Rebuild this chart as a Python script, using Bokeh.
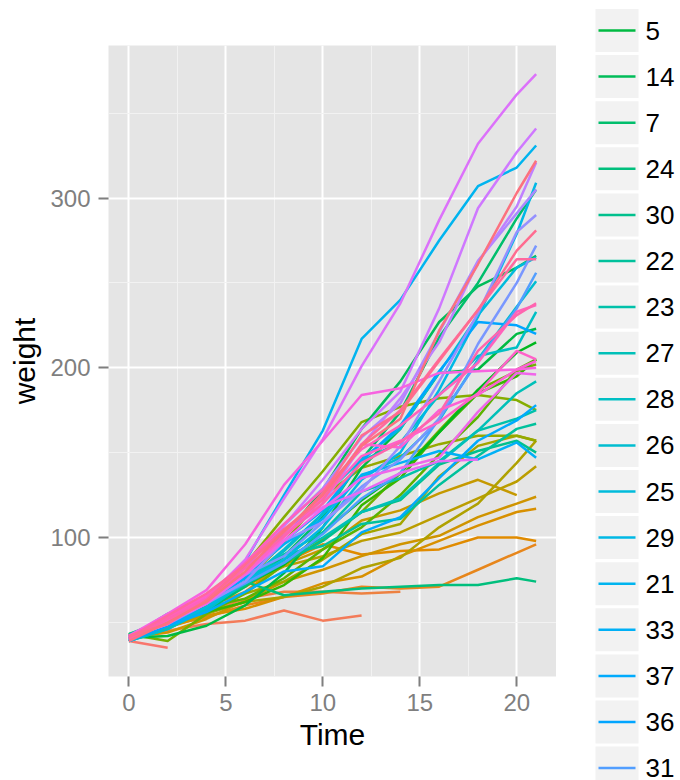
import math
from jinja2 import Template
from bokeh.plotting import figure
from bokeh.models import Range1d, FixedTicker, ColumnDataSource
from bokeh.core.properties import value
from bokeh.embed import file_html
from bokeh.resources import INLINE

# ---- data (ChickWeight) ----
times = [0, 2, 4, 6, 8, 10, 12, 14, 16, 18, 20, 21]

c1 = [42, 51, 59, 64, 76, 93, 106, 125, 149, 171, 199, 205]
c2 = [40, 49, 58, 72, 84, 103, 122, 138, 162, 187, 209, 215]
c3 = [43, 39, 55, 67, 84, 99, 115, 138, 163, 187, 198, 202]
c4 = [42, 49, 56, 67, 74, 87, 102, 108, 136, 154, 160, 157]
c5 = [41, 42, 48, 60, 79, 106, 141, 164, 197, 199, 220, 223]
c6 = [41, 49, 59, 74, 97, 124, 141, 148, 155, 160, 160, 157]
c7 = [41, 49, 57, 71, 89, 112, 146, 174, 218, 250, 288, 305]
c8 = [42, 50, 61, 71, 84, 93, 110, 116, 126, 134, 125]
c9 = [42, 51, 59, 68, 85, 96, 90, 92, 93, 100, 100, 98]
c10 = [41, 44, 52, 63, 74, 81, 89, 96, 101, 112, 120, 124]
c11 = [43, 51, 63, 84, 112, 139, 168, 177, 182, 184, 181, 175]
c12 = [41, 49, 56, 62, 72, 88, 119, 135, 162, 185, 195, 205]
c13 = [41, 48, 53, 60, 65, 67, 71, 70, 71, 81, 91, 96]
c14 = [41, 49, 62, 79, 101, 128, 164, 192, 227, 248, 259, 266]
c15 = [41, 49, 56, 64, 68, 68, 67, 68]
c16 = [41, 45, 49, 51, 57, 51, 54]
c17 = [42, 51, 61, 72, 83, 89, 98, 103, 113, 123, 133, 142]
c18 = [39, 35]
c19 = [43, 48, 55, 62, 65, 71, 82, 88, 106, 120, 144, 157]
c20 = [41, 47, 54, 58, 65, 73, 77, 89, 98, 107, 115, 117]
c21 = [40, 50, 62, 86, 125, 163, 217, 240, 275, 307, 318, 331]
c22 = [41, 55, 64, 77, 90, 95, 108, 111, 131, 148, 164, 167]
c23 = [43, 52, 61, 73, 90, 103, 127, 135, 145, 163, 170, 175]
c24 = [42, 52, 58, 74, 66, 68, 70, 71, 72, 72, 76, 74]
c25 = [40, 49, 62, 78, 102, 124, 146, 164, 197, 231, 259, 265]
c26 = [42, 48, 57, 74, 93, 114, 136, 147, 169, 205, 236, 251]
c27 = [39, 46, 58, 73, 87, 100, 115, 123, 144, 163, 185, 192]
c28 = [39, 46, 58, 73, 92, 114, 145, 156, 184, 207, 212, 233]
c29 = [39, 48, 59, 74, 87, 106, 134, 150, 187, 230, 279, 309]
c30 = [42, 48, 59, 72, 85, 98, 115, 122, 143, 151, 157, 150]
c31 = [42, 53, 62, 73, 85, 102, 123, 138, 170, 204, 235, 256]
c32 = [41, 49, 65, 82, 107, 129, 159, 179, 221, 263, 291, 305]
c33 = [39, 50, 63, 77, 96, 111, 137, 144, 151, 146, 156, 147]
c34 = [41, 49, 63, 85, 107, 134, 164, 186, 235, 294, 327, 341]
c35 = [41, 53, 64, 87, 123, 158, 201, 238, 287, 332, 361, 373]
c36 = [39, 48, 61, 76, 98, 116, 145, 166, 198, 227, 225, 220]
c37 = [41, 48, 56, 68, 80, 83, 103, 112, 135, 157, 169, 178]
c38 = [41, 49, 61, 74, 98, 109, 128, 154, 192, 232, 280, 290]
c39 = [42, 50, 61, 78, 89, 109, 130, 146, 170, 214, 250, 272]
c40 = [41, 55, 66, 79, 101, 120, 154, 182, 215, 262, 295, 321]
c41 = [42, 51, 66, 85, 103, 124, 155, 153, 175, 184, 199, 204]
c42 = [42, 49, 63, 84, 103, 126, 160, 174, 204, 234, 269, 281]
c43 = [42, 55, 69, 96, 131, 157, 184, 188, 197, 198, 199, 200]
c44 = [42, 51, 65, 86, 103, 118, 127, 138, 145, 146]
c45 = [41, 50, 61, 78, 98, 117, 135, 141, 147, 174, 197, 196]
c46 = [40, 52, 62, 82, 101, 120, 144, 156, 173, 210, 231, 238]
c47 = [41, 53, 66, 79, 100, 123, 148, 157, 168, 185, 210, 205]
c48 = [39, 50, 62, 80, 104, 125, 154, 170, 222, 261, 303, 322]
c49 = [40, 53, 64, 85, 108, 128, 152, 166, 184, 203, 233, 237]
c50 = [41, 54, 67, 84, 105, 122, 155, 175, 205, 234, 264, 264]

# factor level order of Chick (legend order)
level_order = ["18", "16", "15", "13", "9", "20", "10", "8", "17", "19",
               "4", "6", "11", "3", "1", "12", "2", "5", "14", "7",
               "24", "30", "22", "23", "27", "28", "26", "25", "29", "21",
               "33", "37", "36", "31", "39", "38", "32", "40", "34", "35",
               "44", "45", "43", "41", "47", "49", "46", "50", "42", "48"]

x_ticks = [0, 5, 10, 15, 20]
y_ticks = [100, 200, 300]

weights_by_chick = {str(i): globals()["c%d" % i] for i in range(1, 51)}


# ---- ggplot2 hue palette (hcl, c=100, l=65) ----
def hcl_hex(h, c=100.0, l=65.0):
    WHITE_Y, WHITE_u, WHITE_v = 100.0, 0.1978398, 0.4683363
    hr = math.radians(h)
    U = c * math.cos(hr)
    V = c * math.sin(hr)
    Y = WHITE_Y * (((l + 16) / 116) ** 3 if l > 7.999592 else l / 903.3)
    u = U / (13 * l) + WHITE_u
    v = V / (13 * l) + WHITE_v
    X = 9.0 * Y * u / (4 * v)
    Z = -X / 3 - 5 * Y + 3 * Y / v

    def g(t):
        t = t / WHITE_Y
        t = 1.055 * t ** (1 / 2.4) - 0.055 if t > 0.00304 else 12.92 * t
        return int(255 * min(1.0, max(0.0, t)) + 0.5)

    r = g(3.240479 * X - 1.537150 * Y - 0.498535 * Z)
    gg = g(-0.969256 * X + 1.875992 * Y + 0.041556 * Z)
    b = g(0.055648 * X - 0.204043 * Y + 1.057311 * Z)
    return "#%02X%02X%02X" % (r, gg, b)


n = len(level_order)
colors = [hcl_hex(15 + 360.0 * i / n) for i in range(n)]

xs = [times[:len(weights_by_chick[ch])] for ch in level_order]
ys = [weights_by_chick[ch] for ch in level_order]

FONT = "Liberation Sans"
GREY = "#7F7F7F"

# ---- main panel ----
p = figure(width=556, height=780,
           x_range=Range1d(-1.05, 22.05), y_range=Range1d(18.1, 389.9),
           output_backend="svg", toolbar_location=None,
           min_border_left=108, min_border_right=0,
           min_border_top=45, min_border_bottom=104,
           background_fill_color="#E5E5E5", border_fill_color="white",
           outline_line_color=None)

src = ColumnDataSource(dict(xs=xs, ys=ys, color=colors))
p.multi_line(xs="xs", ys="ys", line_color="color", line_width=2.5,
             line_join="round", source=src)

p.xaxis.ticker = FixedTicker(ticks=x_ticks, minor_ticks=[2.5, 7.5, 12.5, 17.5])
p.yaxis.ticker = FixedTicker(ticks=y_ticks, minor_ticks=[50, 150, 250, 350])

for grid in (p.xgrid, p.ygrid):
    grid.grid_line_color = "white"
    grid.grid_line_width = 2
    grid.minor_grid_line_color = "#F2F2F2"
    grid.minor_grid_line_width = 1

p.xaxis.axis_label = "Time"
p.yaxis.axis_label = "weight"
for ax in (p.xaxis, p.yaxis):
    ax.axis_line_color = None
    ax.major_tick_line_color = GREY
    ax.major_tick_line_width = 2
    ax.major_tick_out = 10
    ax.major_tick_in = 0
    ax.minor_tick_out = 0
    ax.minor_tick_in = 0
    ax.major_label_text_color = GREY
    ax.major_label_text_font = FONT
    ax.major_label_text_font_size = "24px"
    ax.axis_label_text_font = FONT
    ax.axis_label_text_font_size = "30px"
    ax.axis_label_text_font_style = "normal"
    ax.axis_label_text_color = "black"
p.xaxis.major_label_standoff = 7
p.yaxis.major_label_standoff = 8
p.xaxis.axis_label_standoff = 4
p.yaxis.axis_label_standoff = 6

# ---- legend (its own small figure; the window shows items 5..31) ----
lf = figure(width=124, height=780,
            x_range=Range1d(0, 124), y_range=Range1d(33.269, 16.349),
            x_axis_type=None, y_axis_type=None,
            output_backend="svg", toolbar_location=None,
            min_border_left=0, min_border_right=0,
            min_border_top=0, min_border_bottom=0,
            outline_line_color=None, background_fill_color="white",
            border_fill_color="white")
lf.grid.visible = False

first_shown, last_shown = 17, 33
idx = list(range(first_shown, last_shown + 1))
leg_colors = colors[first_shown:last_shown + 1]
leg_labels = level_order[first_shown:last_shown + 1]

lf.rect(x=60.5, y=idx, width=43, height=43, width_units="screen",
        height_units="screen", fill_color="#F2F2F2", line_color=None)
lf.segment(x0=42, y0=idx, x1=79, y1=idx, line_color=leg_colors, line_width=2.5)
lf.text(x=89, y=idx, text=leg_labels, text_baseline="middle",
        text_align="left", text_font=value(FONT), text_font_size="26px",
        text_color="black")

# two independent roots laid side by side (so plot frames are not aligned)
tmpl = Template("""{% extends base %}
{% block preamble %}
<style>
  body { display: flex !important; flex-direction: row !important;
         align-items: flex-start !important; }
</style>
{% endblock %}
""")

open("out.html", "w").write(file_html([p, lf], INLINE, template=tmpl))
